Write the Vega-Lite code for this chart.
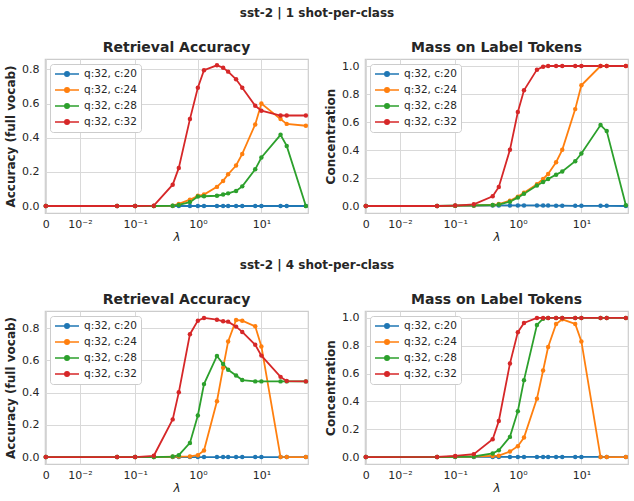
{
  "$schema": "https://vega.github.io/schema/vega-lite/v6.json",
  "padding": {"top": 7, "left": 3, "right": 4, "bottom": 2},
  "background": "white",
  "datasets": {
    "a1": [
      {"series":"q:32, c:20","lambda":0,"value":0},{"series":"q:32, c:20","lambda":0.05,"value":0},{"series":"q:32, c:20","lambda":0.1,"value":0},{"series":"q:32, c:20","lambda":0.2,"value":0},{"series":"q:32, c:20","lambda":0.4,"value":0},{"series":"q:32, c:20","lambda":0.5,"value":0},{"series":"q:32, c:20","lambda":0.75,"value":0},{"series":"q:32, c:20","lambda":1,"value":0},{"series":"q:32, c:20","lambda":1.25,"value":0},{"series":"q:32, c:20","lambda":2,"value":0},{"series":"q:32, c:20","lambda":2.5,"value":0},{"series":"q:32, c:20","lambda":3,"value":0},{"series":"q:32, c:20","lambda":4,"value":0},{"series":"q:32, c:20","lambda":5,"value":0},{"series":"q:32, c:20","lambda":8,"value":0},{"series":"q:32, c:20","lambda":10,"value":0},{"series":"q:32, c:20","lambda":20,"value":0},{"series":"q:32, c:20","lambda":25,"value":0},{"series":"q:32, c:20","lambda":50,"value":0},
      {"series":"q:32, c:24","lambda":0,"value":0},{"series":"q:32, c:24","lambda":0.05,"value":0},{"series":"q:32, c:24","lambda":0.1,"value":0},{"series":"q:32, c:24","lambda":0.2,"value":0},{"series":"q:32, c:24","lambda":0.4,"value":0.002},{"series":"q:32, c:24","lambda":0.5,"value":0.012},{"series":"q:32, c:24","lambda":0.75,"value":0.037},{"series":"q:32, c:24","lambda":1,"value":0.06},{"series":"q:32, c:24","lambda":1.25,"value":0.067},{"series":"q:32, c:24","lambda":2,"value":0.112},{"series":"q:32, c:24","lambda":2.5,"value":0.147},{"series":"q:32, c:24","lambda":3,"value":0.186},{"series":"q:32, c:24","lambda":4,"value":0.237},{"series":"q:32, c:24","lambda":5,"value":0.305},{"series":"q:32, c:24","lambda":8,"value":0.478},{"series":"q:32, c:24","lambda":10,"value":0.6},{"series":"q:32, c:24","lambda":20,"value":0.509},{"series":"q:32, c:24","lambda":25,"value":0.481},{"series":"q:32, c:24","lambda":50,"value":0.47},
      {"series":"q:32, c:28","lambda":0,"value":0},{"series":"q:32, c:28","lambda":0.05,"value":0},{"series":"q:32, c:28","lambda":0.1,"value":0},{"series":"q:32, c:28","lambda":0.2,"value":0},{"series":"q:32, c:28","lambda":0.4,"value":0.002},{"series":"q:32, c:28","lambda":0.5,"value":0.006},{"series":"q:32, c:28","lambda":0.75,"value":0.023},{"series":"q:32, c:28","lambda":1,"value":0.055},{"series":"q:32, c:28","lambda":1.25,"value":0.057},{"series":"q:32, c:28","lambda":2,"value":0.06},{"series":"q:32, c:28","lambda":2.5,"value":0.067},{"series":"q:32, c:28","lambda":3,"value":0.074},{"series":"q:32, c:28","lambda":4,"value":0.088},{"series":"q:32, c:28","lambda":5,"value":0.115},{"series":"q:32, c:28","lambda":8,"value":0.215},{"series":"q:32, c:28","lambda":10,"value":0.284},{"series":"q:32, c:28","lambda":20,"value":0.417},{"series":"q:32, c:28","lambda":25,"value":0.352},{"series":"q:32, c:28","lambda":50,"value":0},
      {"series":"q:32, c:32","lambda":0,"value":0},{"series":"q:32, c:32","lambda":0.05,"value":0},{"series":"q:32, c:32","lambda":0.1,"value":0},{"series":"q:32, c:32","lambda":0.2,"value":0.002},{"series":"q:32, c:32","lambda":0.4,"value":0.125},{"series":"q:32, c:32","lambda":0.5,"value":0.223},{"series":"q:32, c:32","lambda":0.75,"value":0.509},{"series":"q:32, c:32","lambda":1,"value":0.693},{"series":"q:32, c:32","lambda":1.25,"value":0.795},{"series":"q:32, c:32","lambda":2,"value":0.824},{"series":"q:32, c:32","lambda":2.5,"value":0.81},{"series":"q:32, c:32","lambda":3,"value":0.787},{"series":"q:32, c:32","lambda":4,"value":0.742},{"series":"q:32, c:32","lambda":5,"value":0.693},{"series":"q:32, c:32","lambda":8,"value":0.587},{"series":"q:32, c:32","lambda":10,"value":0.558},{"series":"q:32, c:32","lambda":20,"value":0.53},{"series":"q:32, c:32","lambda":25,"value":0.53},{"series":"q:32, c:32","lambda":50,"value":0.53}
    ],
    "m1": [
      {"series":"q:32, c:20","lambda":0,"value":0},{"series":"q:32, c:20","lambda":0.05,"value":0},{"series":"q:32, c:20","lambda":0.1,"value":0.002},{"series":"q:32, c:20","lambda":0.2,"value":0.003},{"series":"q:32, c:20","lambda":0.4,"value":0.004},{"series":"q:32, c:20","lambda":0.5,"value":0.004},{"series":"q:32, c:20","lambda":0.75,"value":0.004},{"series":"q:32, c:20","lambda":1,"value":0.004},{"series":"q:32, c:20","lambda":1.25,"value":0.004},{"series":"q:32, c:20","lambda":2,"value":0.004},{"series":"q:32, c:20","lambda":2.5,"value":0.003},{"series":"q:32, c:20","lambda":3,"value":0.003},{"series":"q:32, c:20","lambda":4,"value":0.002},{"series":"q:32, c:20","lambda":5,"value":0.002},{"series":"q:32, c:20","lambda":8,"value":0.001},{"series":"q:32, c:20","lambda":10,"value":0.001},{"series":"q:32, c:20","lambda":20,"value":0.001},{"series":"q:32, c:20","lambda":25,"value":0.001},{"series":"q:32, c:20","lambda":50,"value":0},
      {"series":"q:32, c:24","lambda":0,"value":0},{"series":"q:32, c:24","lambda":0.05,"value":0},{"series":"q:32, c:24","lambda":0.1,"value":0.002},{"series":"q:32, c:24","lambda":0.2,"value":0.004},{"series":"q:32, c:24","lambda":0.4,"value":0.007},{"series":"q:32, c:24","lambda":0.5,"value":0.014},{"series":"q:32, c:24","lambda":0.75,"value":0.038},{"series":"q:32, c:24","lambda":1,"value":0.067},{"series":"q:32, c:24","lambda":1.25,"value":0.095},{"series":"q:32, c:24","lambda":2,"value":0.155},{"series":"q:32, c:24","lambda":2.5,"value":0.193},{"series":"q:32, c:24","lambda":3,"value":0.229},{"series":"q:32, c:24","lambda":4,"value":0.313},{"series":"q:32, c:24","lambda":5,"value":0.401},{"series":"q:32, c:24","lambda":8,"value":0.692},{"series":"q:32, c:24","lambda":10,"value":0.862},{"series":"q:32, c:24","lambda":20,"value":1},{"series":"q:32, c:24","lambda":25,"value":1},{"series":"q:32, c:24","lambda":50,"value":1},
      {"series":"q:32, c:28","lambda":0,"value":0},{"series":"q:32, c:28","lambda":0.05,"value":0},{"series":"q:32, c:28","lambda":0.1,"value":0.002},{"series":"q:32, c:28","lambda":0.2,"value":0.004},{"series":"q:32, c:28","lambda":0.4,"value":0.007},{"series":"q:32, c:28","lambda":0.5,"value":0.01},{"series":"q:32, c:28","lambda":0.75,"value":0.031},{"series":"q:32, c:28","lambda":1,"value":0.06},{"series":"q:32, c:28","lambda":1.25,"value":0.088},{"series":"q:32, c:28","lambda":2,"value":0.146},{"series":"q:32, c:28","lambda":2.5,"value":0.172},{"series":"q:32, c:28","lambda":3,"value":0.193},{"series":"q:32, c:28","lambda":4,"value":0.224},{"series":"q:32, c:28","lambda":5,"value":0.246},{"series":"q:32, c:28","lambda":8,"value":0.32},{"series":"q:32, c:28","lambda":10,"value":0.375},{"series":"q:32, c:28","lambda":20,"value":0.578},{"series":"q:32, c:28","lambda":25,"value":0.535},{"series":"q:32, c:28","lambda":50,"value":0.005},
      {"series":"q:32, c:32","lambda":0,"value":0},{"series":"q:32, c:32","lambda":0.05,"value":0},{"series":"q:32, c:32","lambda":0.1,"value":0.003},{"series":"q:32, c:32","lambda":0.2,"value":0.012},{"series":"q:32, c:32","lambda":0.4,"value":0.069},{"series":"q:32, c:32","lambda":0.5,"value":0.136},{"series":"q:32, c:32","lambda":0.75,"value":0.401},{"series":"q:32, c:32","lambda":1,"value":0.671},{"series":"q:32, c:32","lambda":1.25,"value":0.826},{"series":"q:32, c:32","lambda":2,"value":0.974},{"series":"q:32, c:32","lambda":2.5,"value":0.995},{"series":"q:32, c:32","lambda":3,"value":1},{"series":"q:32, c:32","lambda":4,"value":1},{"series":"q:32, c:32","lambda":5,"value":1},{"series":"q:32, c:32","lambda":8,"value":1},{"series":"q:32, c:32","lambda":10,"value":1},{"series":"q:32, c:32","lambda":20,"value":1},{"series":"q:32, c:32","lambda":25,"value":1},{"series":"q:32, c:32","lambda":50,"value":1}
    ],
    "a4": [
      {"series":"q:32, c:20","lambda":0,"value":0},{"series":"q:32, c:20","lambda":0.05,"value":0},{"series":"q:32, c:20","lambda":0.1,"value":0},{"series":"q:32, c:20","lambda":0.2,"value":0},{"series":"q:32, c:20","lambda":0.4,"value":0},{"series":"q:32, c:20","lambda":0.5,"value":0},{"series":"q:32, c:20","lambda":0.75,"value":0},{"series":"q:32, c:20","lambda":1,"value":0},{"series":"q:32, c:20","lambda":1.25,"value":0},{"series":"q:32, c:20","lambda":2,"value":0},{"series":"q:32, c:20","lambda":2.5,"value":0},{"series":"q:32, c:20","lambda":3,"value":0},{"series":"q:32, c:20","lambda":4,"value":0},{"series":"q:32, c:20","lambda":5,"value":0},{"series":"q:32, c:20","lambda":8,"value":0},{"series":"q:32, c:20","lambda":10,"value":0},{"series":"q:32, c:20","lambda":20,"value":0},{"series":"q:32, c:20","lambda":25,"value":0},{"series":"q:32, c:20","lambda":50,"value":0},
      {"series":"q:32, c:24","lambda":0,"value":0},{"series":"q:32, c:24","lambda":0.05,"value":0},{"series":"q:32, c:24","lambda":0.1,"value":0},{"series":"q:32, c:24","lambda":0.2,"value":0},{"series":"q:32, c:24","lambda":0.4,"value":0.002},{"series":"q:32, c:24","lambda":0.5,"value":0.003},{"series":"q:32, c:24","lambda":0.75,"value":0.004},{"series":"q:32, c:24","lambda":1,"value":0.012},{"series":"q:32, c:24","lambda":1.25,"value":0.041},{"series":"q:32, c:24","lambda":2,"value":0.347},{"series":"q:32, c:24","lambda":2.5,"value":0.554},{"series":"q:32, c:24","lambda":3,"value":0.718},{"series":"q:32, c:24","lambda":4,"value":0.851},{"series":"q:32, c:24","lambda":5,"value":0.847},{"series":"q:32, c:24","lambda":8,"value":0.812},{"series":"q:32, c:24","lambda":10,"value":0.687},{"series":"q:32, c:24","lambda":20,"value":0},{"series":"q:32, c:24","lambda":25,"value":0},{"series":"q:32, c:24","lambda":50,"value":0},
      {"series":"q:32, c:28","lambda":0,"value":0},{"series":"q:32, c:28","lambda":0.05,"value":0},{"series":"q:32, c:28","lambda":0.1,"value":0},{"series":"q:32, c:28","lambda":0.2,"value":0},{"series":"q:32, c:28","lambda":0.4,"value":0.003},{"series":"q:32, c:28","lambda":0.5,"value":0.012},{"series":"q:32, c:28","lambda":0.75,"value":0.088},{"series":"q:32, c:28","lambda":1,"value":0.258},{"series":"q:32, c:28","lambda":1.25,"value":0.453},{"series":"q:32, c:28","lambda":2,"value":0.628},{"series":"q:32, c:28","lambda":2.5,"value":0.578},{"series":"q:32, c:28","lambda":3,"value":0.542},{"series":"q:32, c:28","lambda":4,"value":0.507},{"series":"q:32, c:28","lambda":5,"value":0.478},{"series":"q:32, c:28","lambda":8,"value":0.47},{"series":"q:32, c:28","lambda":10,"value":0.47},{"series":"q:32, c:28","lambda":20,"value":0.47},{"series":"q:32, c:28","lambda":25,"value":0.47},{"series":"q:32, c:28","lambda":50,"value":0.47},
      {"series":"q:32, c:32","lambda":0,"value":0},{"series":"q:32, c:32","lambda":0.05,"value":0},{"series":"q:32, c:32","lambda":0.1,"value":0},{"series":"q:32, c:32","lambda":0.2,"value":0.008},{"series":"q:32, c:32","lambda":0.4,"value":0.234},{"series":"q:32, c:32","lambda":0.5,"value":0.402},{"series":"q:32, c:32","lambda":0.75,"value":0.763},{"series":"q:32, c:32","lambda":1,"value":0.847},{"series":"q:32, c:32","lambda":1.25,"value":0.864},{"series":"q:32, c:32","lambda":2,"value":0.853},{"series":"q:32, c:32","lambda":2.5,"value":0.843},{"series":"q:32, c:32","lambda":3,"value":0.841},{"series":"q:32, c:32","lambda":4,"value":0.81},{"series":"q:32, c:32","lambda":5,"value":0.777},{"series":"q:32, c:32","lambda":8,"value":0.697},{"series":"q:32, c:32","lambda":10,"value":0.63},{"series":"q:32, c:32","lambda":20,"value":0.498},{"series":"q:32, c:32","lambda":25,"value":0.472},{"series":"q:32, c:32","lambda":50,"value":0.47}
    ],
    "m4": [
      {"series":"q:32, c:20","lambda":0,"value":0},{"series":"q:32, c:20","lambda":0.05,"value":0},{"series":"q:32, c:20","lambda":0.1,"value":0.001},{"series":"q:32, c:20","lambda":0.2,"value":0.001},{"series":"q:32, c:20","lambda":0.4,"value":0.001},{"series":"q:32, c:20","lambda":0.5,"value":0.001},{"series":"q:32, c:20","lambda":0.75,"value":0.001},{"series":"q:32, c:20","lambda":1,"value":0.001},{"series":"q:32, c:20","lambda":1.25,"value":0.001},{"series":"q:32, c:20","lambda":2,"value":0.001},{"series":"q:32, c:20","lambda":2.5,"value":0.001},{"series":"q:32, c:20","lambda":3,"value":0.001},{"series":"q:32, c:20","lambda":4,"value":0.001},{"series":"q:32, c:20","lambda":5,"value":0.001},{"series":"q:32, c:20","lambda":8,"value":0.001},{"series":"q:32, c:20","lambda":10,"value":0.001},{"series":"q:32, c:20","lambda":20,"value":0.001},{"series":"q:32, c:20","lambda":25,"value":0.001},{"series":"q:32, c:20","lambda":50,"value":0},
      {"series":"q:32, c:24","lambda":0,"value":0},{"series":"q:32, c:24","lambda":0.05,"value":0},{"series":"q:32, c:24","lambda":0.1,"value":0.002},{"series":"q:32, c:24","lambda":0.2,"value":0.004},{"series":"q:32, c:24","lambda":0.4,"value":0.008},{"series":"q:32, c:24","lambda":0.5,"value":0.01},{"series":"q:32, c:24","lambda":0.75,"value":0.04},{"series":"q:32, c:24","lambda":1,"value":0.078},{"series":"q:32, c:24","lambda":1.25,"value":0.14},{"series":"q:32, c:24","lambda":2,"value":0.42},{"series":"q:32, c:24","lambda":2.5,"value":0.622},{"series":"q:32, c:24","lambda":3,"value":0.791},{"series":"q:32, c:24","lambda":4,"value":0.957},{"series":"q:32, c:24","lambda":5,"value":0.99},{"series":"q:32, c:24","lambda":8,"value":0.957},{"series":"q:32, c:24","lambda":10,"value":0.831},{"series":"q:32, c:24","lambda":20,"value":0},{"series":"q:32, c:24","lambda":25,"value":0},{"series":"q:32, c:24","lambda":50,"value":0},
      {"series":"q:32, c:28","lambda":0,"value":0},{"series":"q:32, c:28","lambda":0.05,"value":0},{"series":"q:32, c:28","lambda":0.1,"value":0.002},{"series":"q:32, c:28","lambda":0.2,"value":0.004},{"series":"q:32, c:28","lambda":0.4,"value":0.026},{"series":"q:32, c:28","lambda":0.5,"value":0.048},{"series":"q:32, c:28","lambda":0.75,"value":0.145},{"series":"q:32, c:28","lambda":1,"value":0.33},{"series":"q:32, c:28","lambda":1.25,"value":0.553},{"series":"q:32, c:28","lambda":2,"value":0.95},{"series":"q:32, c:28","lambda":2.5,"value":0.995},{"series":"q:32, c:28","lambda":3,"value":1},{"series":"q:32, c:28","lambda":4,"value":1},{"series":"q:32, c:28","lambda":5,"value":1},{"series":"q:32, c:28","lambda":8,"value":1},{"series":"q:32, c:28","lambda":10,"value":1},{"series":"q:32, c:28","lambda":20,"value":1},{"series":"q:32, c:28","lambda":25,"value":1},{"series":"q:32, c:28","lambda":50,"value":1},
      {"series":"q:32, c:32","lambda":0,"value":0},{"series":"q:32, c:32","lambda":0.05,"value":0.001},{"series":"q:32, c:32","lambda":0.1,"value":0.008},{"series":"q:32, c:32","lambda":0.2,"value":0.021},{"series":"q:32, c:32","lambda":0.4,"value":0.128},{"series":"q:32, c:32","lambda":0.5,"value":0.259},{"series":"q:32, c:32","lambda":0.75,"value":0.672},{"series":"q:32, c:32","lambda":1,"value":0.898},{"series":"q:32, c:32","lambda":1.25,"value":0.964},{"series":"q:32, c:32","lambda":2,"value":1},{"series":"q:32, c:32","lambda":2.5,"value":1},{"series":"q:32, c:32","lambda":3,"value":1},{"series":"q:32, c:32","lambda":4,"value":1},{"series":"q:32, c:32","lambda":5,"value":1},{"series":"q:32, c:32","lambda":8,"value":1},{"series":"q:32, c:32","lambda":10,"value":1},{"series":"q:32, c:32","lambda":20,"value":1},{"series":"q:32, c:32","lambda":25,"value":1},{"series":"q:32, c:32","lambda":50,"value":1}
    ]
  },
  "spacing": 16,
  "resolve": {"scale": {"color": "independent"}, "legend": {"color": "independent"}},
  "vconcat": [
    {
      "title": {"text": "sst-2 | 1 shot-per-class", "fontSize": 12, "anchor": "middle", "offset": 20},
      "spacing": 12,
      "resolve": {"scale": {"color": "independent"}, "legend": {"color": "independent"}},
      "hconcat": [
        {
          "width": 263, "height": 154, "title": "Retrieval Accuracy",
          "data": {"name": "a1"},
          "mark": {"type": "line", "strokeWidth": 1.8, "clip": false, "point": {"size": 20, "filled": true}},
          "encoding": {
            "x": {"field": "lambda", "type": "quantitative", "title": "λ", "scale": {"type": "symlog", "constant": 0.0041, "domain": [-0.00012, 54], "nice": false, "zero": false}, "axis": {"values": [0, 0.01, 0.1, 1, 10], "labelExpr": "datum.value === 0 ? '0' : datum.value === 0.01 ? '10⁻²' : datum.value === 0.1 ? '10⁻¹' : datum.value === 1 ? '10⁰' : '10¹'"}},
            "y": {"field": "value", "type": "quantitative", "title": "Accuracy (full vocab)", "scale": {"domain": [-0.041, 0.861], "nice": false, "zero": false}, "axis": {"values": [0, 0.2, 0.4, 0.6, 0.8], "format": ".1f"}},
            "color": {"field": "series", "type": "nominal", "title": null, "scale": {"domain": ["q:32, c:20", "q:32, c:24", "q:32, c:28", "q:32, c:32"], "range": ["#1f77b4", "#ff7f0e", "#2ca02c", "#d62728"]}}
          }
        },
        {
          "width": 263, "height": 154, "title": "Mass on Label Tokens",
          "data": {"name": "m1"},
          "mark": {"type": "line", "strokeWidth": 1.8, "clip": false, "point": {"size": 20, "filled": true}},
          "encoding": {
            "x": {"field": "lambda", "type": "quantitative", "title": "λ", "scale": {"type": "symlog", "constant": 0.0041, "domain": [-0.00012, 54], "nice": false, "zero": false}, "axis": {"values": [0, 0.01, 0.1, 1, 10], "labelExpr": "datum.value === 0 ? '0' : datum.value === 0.01 ? '10⁻²' : datum.value === 0.1 ? '10⁻¹' : datum.value === 1 ? '10⁰' : '10¹'"}},
            "y": {"field": "value", "type": "quantitative", "title": "Concentration", "scale": {"domain": [-0.05, 1.05], "nice": false, "zero": false}, "axis": {"values": [0, 0.2, 0.4, 0.6, 0.8, 1.0], "format": ".1f"}},
            "color": {"field": "series", "type": "nominal", "title": null, "scale": {"domain": ["q:32, c:20", "q:32, c:24", "q:32, c:28", "q:32, c:32"], "range": ["#1f77b4", "#ff7f0e", "#2ca02c", "#d62728"]}}
          }
        }
      ]
    },
    {
      "title": {"text": "sst-2 | 4 shot-per-class", "fontSize": 12, "anchor": "middle", "offset": 20},
      "spacing": 12,
      "resolve": {"scale": {"color": "independent"}, "legend": {"color": "independent"}},
      "hconcat": [
        {
          "width": 263, "height": 153, "title": "Retrieval Accuracy",
          "data": {"name": "a4"},
          "mark": {"type": "line", "strokeWidth": 1.8, "clip": false, "point": {"size": 20, "filled": true}},
          "encoding": {
            "x": {"field": "lambda", "type": "quantitative", "title": "λ", "scale": {"type": "symlog", "constant": 0.0041, "domain": [-0.00012, 54], "nice": false, "zero": false}, "axis": {"values": [0, 0.01, 0.1, 1, 10], "labelExpr": "datum.value === 0 ? '0' : datum.value === 0.01 ? '10⁻²' : datum.value === 0.1 ? '10⁻¹' : datum.value === 1 ? '10⁰' : '10¹'"}},
            "y": {"field": "value", "type": "quantitative", "title": "Accuracy (full vocab)", "scale": {"domain": [-0.043, 0.907], "nice": false, "zero": false}, "axis": {"values": [0, 0.2, 0.4, 0.6, 0.8], "format": ".1f"}},
            "color": {"field": "series", "type": "nominal", "title": null, "scale": {"domain": ["q:32, c:20", "q:32, c:24", "q:32, c:28", "q:32, c:32"], "range": ["#1f77b4", "#ff7f0e", "#2ca02c", "#d62728"]}}
          }
        },
        {
          "width": 263, "height": 153, "title": "Mass on Label Tokens",
          "data": {"name": "m4"},
          "mark": {"type": "line", "strokeWidth": 1.8, "clip": false, "point": {"size": 20, "filled": true}},
          "encoding": {
            "x": {"field": "lambda", "type": "quantitative", "title": "λ", "scale": {"type": "symlog", "constant": 0.0041, "domain": [-0.00012, 54], "nice": false, "zero": false}, "axis": {"values": [0, 0.01, 0.1, 1, 10], "labelExpr": "datum.value === 0 ? '0' : datum.value === 0.01 ? '10⁻²' : datum.value === 0.1 ? '10⁻¹' : datum.value === 1 ? '10⁰' : '10¹'"}},
            "y": {"field": "value", "type": "quantitative", "title": "Concentration", "scale": {"domain": [-0.05, 1.05], "nice": false, "zero": false}, "axis": {"values": [0, 0.2, 0.4, 0.6, 0.8, 1.0], "format": ".1f"}},
            "color": {"field": "series", "type": "nominal", "title": null, "scale": {"domain": ["q:32, c:20", "q:32, c:24", "q:32, c:28", "q:32, c:32"], "range": ["#1f77b4", "#ff7f0e", "#2ca02c", "#d62728"]}}
          }
        }
      ]
    }
  ],
  "config": {
    "font": "DejaVu Sans",
    "view": {"stroke": "#cccccc", "strokeWidth": 1.2},
    "title": {"fontSize": 14, "fontWeight": "bold", "color": "#262626", "offset": 4},
    "axis": {"domain": false, "ticks": false, "grid": true, "gridColor": "#d9d9d9", "gridWidth": 1, "labelFontSize": 11, "labelColor": "#262626", "labelPadding": 6, "titleFontSize": 12, "titleFontWeight": "bold", "titleColor": "#262626", "titlePadding": 4},
    "axisX": {"labelPadding": 5, "titleFontWeight": "normal", "titleFontStyle": "italic", "titlePadding": 2, "labelFlush": false},
    "legend": {"orient": "top-left", "offset": 5, "fillColor": "white", "strokeColor": "#cccccc", "cornerRadius": 3, "padding": 4, "labelFontSize": 10.5, "labelColor": "#262626", "symbolType": "M-1,0L3.8,0M0.95,0a0.45,0.45 0 1,0 0.9,0a0.45,0.45 0 1,0 -0.9,0M1.15,0a0.25,0.25 0 1,0 0.5,0a0.25,0.25 0 1,0 -0.5,0M1.32,0a0.08,0.08 0 1,0 0.16,0a0.08,0.08 0 1,0 -0.16,0", "symbolSize": 100, "symbolStrokeWidth": 1.5, "labelOffset": 18, "rowPadding": 4}
  }
}
